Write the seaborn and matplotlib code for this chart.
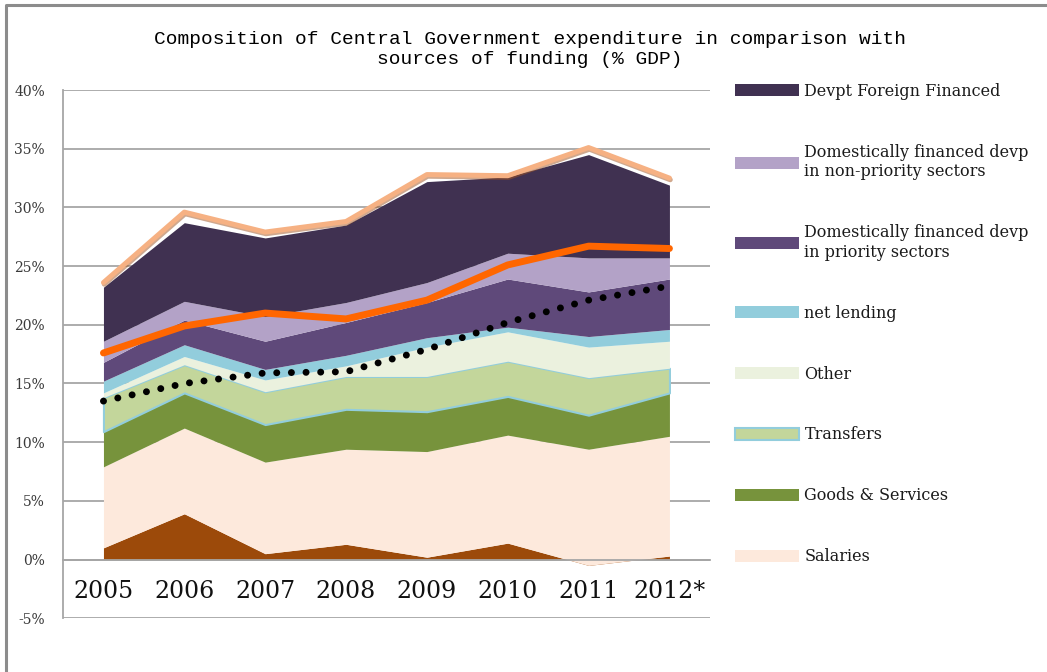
import numpy as np
import matplotlib
matplotlib.use("Agg")
import matplotlib.pyplot as plt
import matplotlib.patheffects as pe
from matplotlib.lines import Line2D
import seaborn as sns

# Values are % of GDP
years = ["2005", "2006", "2007", "2008", "2009", "2010", "2011", "2012*"]

# stacked layers, bottom to top
interest = [1.0, 3.9, 0.5, 1.3, 0.2, 1.4, -0.5, 0.3]  # brown base layer, not in the legend
salaries = [6.9, 7.3, 7.8, 8.1, 9.0, 9.2, 9.9, 10.2]
goods_services = [3.0, 3.0, 3.2, 3.4, 3.4, 3.3, 2.9, 3.7]
transfers = [2.9, 2.4, 2.8, 2.8, 3.0, 3.0, 3.2, 2.1]
other = [0.4, 0.7, 1.0, 0.9, 2.5, 2.5, 2.6, 2.3]
net_lending = [1.0, 1.0, 0.9, 0.9, 0.8, 0.4, 0.9, 1.0]
dev_priority = [1.6, 2.1, 2.4, 2.8, 3.0, 4.1, 3.8, 4.3]
dev_non_priority = [1.8, 1.6, 2.1, 1.7, 1.7, 2.2, 2.9, 1.8]
dev_foreign = [4.6, 6.7, 6.7, 6.6, 8.6, 6.5, 8.8, 6.2]

# lines drawn over the areas
total_expenditure = [23.6, 29.6, 27.9, 28.8, 32.8, 32.7, 35.1, 32.5]
funding = [17.6, 19.9, 21.0, 20.5, 22.1, 25.1, 26.7, 26.5]
revenue = [13.5, 15.0, 15.9, 16.0, 17.9, 20.2, 22.1, 23.3]

layer_labels = ["_nolegend_", "Salaries", "Goods & Services", "Transfers", "Other",
                "net lending", "Domestically financed devp\nin priority sectors",
                "Domestically financed devp\nin non-priority sectors", "Devpt Foreign Financed"]
layer_colors = ["#9C4A0A", "#FDE9DC", "#77933C", "#C3D69B", "#EBF1DE",
                "#92CDDC", "#5F497A", "#B3A2C7", "#403151"]

sns.set_style("white")
plt.rcParams["font.family"] = "DejaVu Serif"

fig = plt.figure(figsize=(10.47, 6.72), dpi=100)
ax = fig.add_axes([0.0602, 0.080, 0.6178, 0.786])
x = np.arange(len(years))

# Stacked areas
polys = ax.stackplot(x, interest, salaries, goods_services, transfers, other, net_lending,
                     dev_priority, dev_non_priority, dev_foreign,
                     colors=layer_colors, labels=layer_labels, linewidth=0)
# transfers band has a thin light blue outline
polys[3].set_edgecolor("#92CDDC")
polys[3].set_linewidth(1.5)

# Lines on top
sns.lineplot(x=x, y=total_expenditure, ax=ax, color="#F6B183", linewidth=3.6, legend=False,
             path_effects=[pe.SimpleLineShadow(offset=(0.6, -1.2), shadow_color="#A0521E", alpha=0.5),
                           pe.Normal()])
sns.lineplot(x=x, y=funding, ax=ax, color="#FF6600", linewidth=5, legend=False,
             solid_capstyle="round")
sns.lineplot(x=x, y=revenue, ax=ax, color="black", linewidth=5, legend=False,
             linestyle=(0, (0.01, 2.1)), dash_capstyle="round")

# Axes styling
ax.set_xlim(-0.5, 7.5)
ax.set_ylim(-5, 40)
yticks = list(range(-5, 41, 5))
ax.set_yticks(yticks)
ax.set_yticklabels([f"{v}%" for v in yticks])
ax.yaxis.grid(True, color="#A6A6A6", linewidth=1.3)
ax.set_axisbelow(True)

ax.set_xticks(x)
ax.set_xticklabels(years)
ax.set_xticks(np.arange(0.5, len(years), 1), minor=True)
ax.tick_params(axis="x", which="major", length=0, pad=15, labelsize=17, labelcolor="#111111")
ax.tick_params(axis="x", which="minor", length=5, width=1.2, color="#A6A6A6", direction="out")
ax.tick_params(axis="y", length=5, width=1.2, color="#A6A6A6", pad=8,
               labelsize=10, labelcolor="#3A3A3A")
ax.set_xlabel("")
ax.set_ylabel("")

for side in ["top", "right"]:
    ax.spines[side].set_visible(False)
ax.spines["left"].set_color("#A6A6A6")
ax.spines["left"].set_linewidth(1.3)
ax.spines["bottom"].set_position(("data", 0))
ax.spines["bottom"].set_color("#A6A6A6")
ax.spines["bottom"].set_linewidth(1.3)

# Legend on the right, top layer first
handles, labels = ax.get_legend_handles_labels()
ax.legend(handles[::-1], labels[::-1], loc="upper left",
          bbox_to_anchor=(0.702, 0.877), bbox_transform=fig.transFigure,
          frameon=False, fontsize=11.5, handlelength=4.0, handleheight=0.75,
          handletextpad=0.35, labelspacing=2.75, borderpad=0, borderaxespad=0,
          labelcolor="#1A1A1A")

# Title
fig.text(0.506, 0.926,
         "Composition of Central Government expenditure in comparison with\nsources of funding (% GDP)",
         ha="center", va="center", fontsize=14, family="Liberation Mono", linespacing=1.25,
         color="black")

# chart border (left and top edge visible in the original)
fig.add_artist(Line2D([6 / 1047, 6 / 1047, 1], [0, 1 - 5 / 672, 1 - 5 / 672],
                      transform=fig.transFigure, color="#8C8C8C", linewidth=2.2))

plt.savefig("out.png", dpi=100)
plt.close()
